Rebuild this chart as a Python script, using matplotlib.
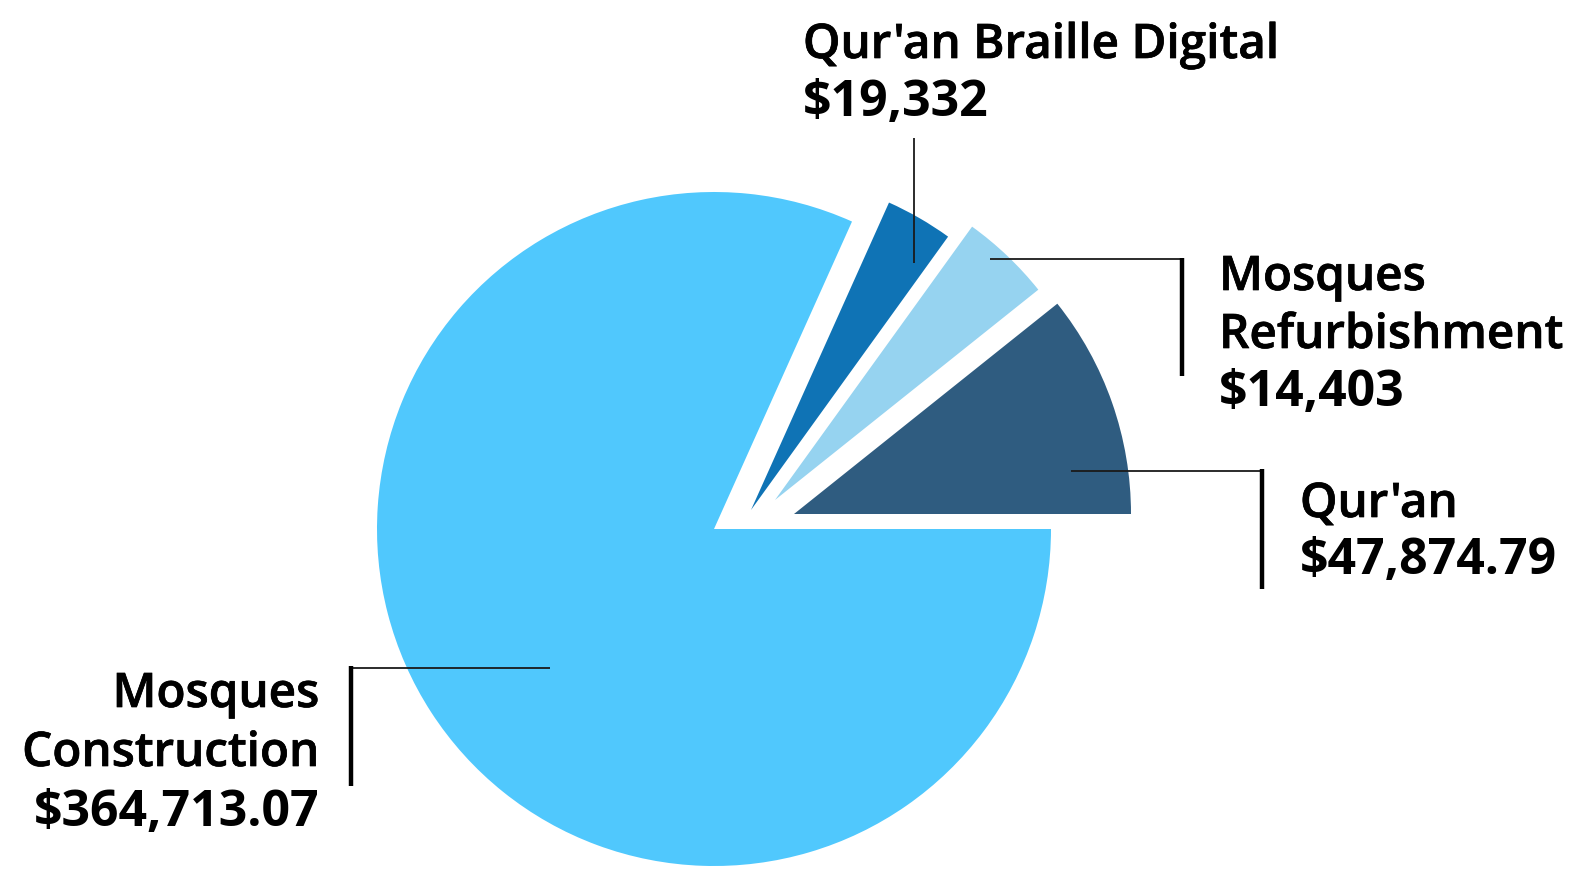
import matplotlib
matplotlib.use("Agg")
import matplotlib.pyplot as plt
import matplotlib.patheffects as pe

# ---- data ----
categories = ["Qur'an", "Mosques\nRefurbishment", "Qur'an Braille Digital", "Mosques\nConstruction"]
amount_labels = ["$47,874.79", "$14,403", "$19,332", "$364,713.07"]
# wedge sizes as drawn in the reference (counter-clockwise from 3 o'clock)
slice_sizes = [47874.79, 19332, 14403, 364713.07]
slice_colors = ["#2F5C80", "#96D3F0", "#0F73B5", "#50C8FD"]

# ---- layout / style (pixel units, y measured from the top) ----
W, H = 1573, 872
center = (714, H - 529)
radius = 337
# per-slice displacement of the wedge apex (x right, y up)
offsets = [(80, 15), (61, 29), (37, 19), (0, 0)]

fig = plt.figure(figsize=(W / 100, H / 100), dpi=100)
ax = fig.add_axes([0, 0, 1, 1])
wedges, _ = ax.pie(slice_sizes, colors=slice_colors, startangle=0, counterclock=True,
                   radius=radius, center=center,
                   wedgeprops=dict(linewidth=0, antialiased=True))
for w, (dx, dy) in zip(wedges, offsets):
    w.set_center((center[0] + dx, center[1] + dy))

ax.set_xlim(0, W)
ax.set_ylim(0, H)
ax.set_aspect("equal")
ax.axis("off")

FAM = ["Open Sans", "DejaVu Sans"]
FS_NAME = 34.3
FS_VAL = 36
name_fx = [pe.withStroke(linewidth=0.5, foreground="#000000")]
thin = dict(color="#1a1a1a", lw=1.3, solid_capstyle="butt")
thick = dict(color="#000000", lw=3.2, solid_capstyle="butt")


def Y(y):
    return H - y


def label(i, x, baselines, ha):
    lines = categories[i].split("\n")
    for txt, b in zip(lines, baselines[:-1]):
        ax.text(x, Y(b), txt, ha=ha, va="baseline", fontsize=FS_NAME,
                fontweight="semibold", family=FAM, color="#000000",
                path_effects=name_fx)
    ax.text(x, Y(baselines[-1]), amount_labels[i], ha=ha, va="baseline", fontsize=FS_VAL,
            fontweight="bold", family=FAM, color="#000000")


# Qur'an Braille Digital
label(2, 803, [58, 116], "left")
ax.plot([914, 914], [Y(138), Y(263)], **thin)

# Mosques Refurbishment
label(1, 1219, [290, 348, 406], "left")
ax.plot([990, 1182], [Y(259), Y(259)], **thin)
ax.plot([1182, 1182], [Y(257.5), Y(376)], **thick)

# Qur'an
label(0, 1300, [517, 574], "left")
ax.plot([1071, 1262], [Y(471), Y(471)], **thin)
ax.plot([1262, 1262], [Y(469.5), Y(589)], **thick)

# Mosques Construction
label(3, 319, [707, 766, 826], "right")
ax.plot([352, 550], [Y(668), Y(668)], **thin)
ax.plot([351, 351], [Y(666.5), Y(786)], **thick)

fig.savefig("out.png", dpi=100)
